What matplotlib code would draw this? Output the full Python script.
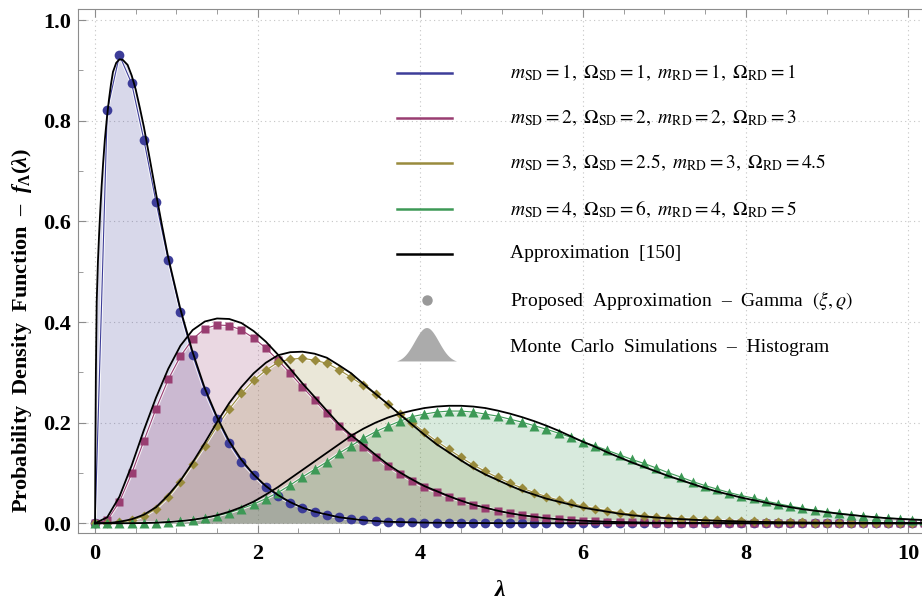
import numpy as np
import matplotlib
matplotlib.use("Agg")
import matplotlib.pyplot as plt
from matplotlib.lines import Line2D
from matplotlib.patches import Polygon
from matplotlib.ticker import MultipleLocator

plt.rcParams['font.family'] = ['Liberation Serif', 'DejaVu Serif']
plt.rcParams['mathtext.fontset'] = 'stix'
plt.rcParams['mathtext.rm'] = 'Liberation Serif:bold'
plt.rcParams['mathtext.it'] = 'Liberation Serif:italic:bold'
plt.rcParams['mathtext.bf'] = 'Liberation Serif:bold'

# lambda grid of the gamma points / simulated histogram (step 0.15, 0 .. 10.2)
lam = np.arange(69) * 0.15

# proposed gamma approximation, one value per grid point
gamma_1 = [0.0, 0.821, 0.930, 0.874, 0.762, 0.638, 0.523, 0.420, 0.334, 0.263,
           0.207, 0.159, 0.122, 0.096, 0.0715, 0.054, 0.041, 0.031, 0.023, 0.0165,
           0.012, 0.0085, 0.006, 0.0045, 0.003, 0.0022, 0.0016, 0.0012, 0.0009, 0.0006,
           0.0004, 0.0003, 0.0002, 0.0001, 0, 0, 0, 0, 0, 0,
           0, 0, 0, 0, 0, 0, 0, 0, 0, 0,
           0, 0, 0, 0, 0, 0, 0, 0, 0, 0,
           0, 0, 0, 0, 0, 0, 0, 0, 0]
gamma_2 = [0.0, 0.006, 0.043, 0.099, 0.164, 0.228, 0.286, 0.332, 0.366, 0.387,
           0.394, 0.393, 0.384, 0.368, 0.348, 0.324, 0.298, 0.271, 0.245, 0.219,
           0.193, 0.172, 0.152, 0.132, 0.113, 0.098, 0.084, 0.072, 0.062, 0.053,
           0.044, 0.037, 0.031, 0.025, 0.020, 0.0165, 0.013, 0.0105, 0.0085, 0.0068,
           0.0055, 0.0044, 0.0035, 0.0028, 0.0022, 0.0017, 0.0013, 0.001, 0.0008, 0.0006,
           0.0005, 0.0004, 0.0003, 0.0002, 0.0002, 0.0001, 0.0001, 0.0001, 0, 0,
           0, 0, 0, 0, 0, 0, 0, 0, 0]
gamma_3 = [0.0, 0.0005, 0.002, 0.006, 0.014, 0.029, 0.052, 0.083, 0.118, 0.154,
           0.193, 0.227, 0.258, 0.284, 0.304, 0.320, 0.326, 0.328, 0.324, 0.318,
           0.305, 0.290, 0.274, 0.256, 0.237, 0.217, 0.200, 0.181, 0.163, 0.147,
           0.131, 0.116, 0.103, 0.091, 0.080, 0.070, 0.061, 0.053, 0.046, 0.040,
           0.034, 0.029, 0.025, 0.021, 0.018, 0.015, 0.013, 0.011, 0.0095, 0.008,
           0.0068, 0.0058, 0.0049, 0.0042, 0.0036, 0.003, 0.0026, 0.0022, 0.0018, 0.0015,
           0.0013, 0.0011, 0.0009, 0.0008, 0.0007, 0.0006, 0.0005, 0.0004, 0.0003]
gamma_4 = [0.0, 0.0, 0.0, 0.0003, 0.0007, 0.0014, 0.0025, 0.004, 0.0065, 0.010,
           0.015, 0.021, 0.029, 0.038, 0.049, 0.061, 0.076, 0.092, 0.107, 0.122,
           0.139, 0.154, 0.169, 0.182, 0.193, 0.203, 0.212, 0.217, 0.221, 0.223,
           0.223, 0.221, 0.217, 0.213, 0.207, 0.201, 0.194, 0.187, 0.179, 0.171,
           0.162, 0.154, 0.145, 0.136, 0.127, 0.119, 0.110, 0.1005, 0.092, 0.083,
           0.075, 0.068, 0.061, 0.055, 0.050, 0.044, 0.039, 0.034, 0.030, 0.026,
           0.023, 0.020, 0.017, 0.0145, 0.0125, 0.0105, 0.009, 0.0075, 0.0065]

# approximation [150] (black curves)
ref_lam_1 = [0, 0.004, 0.01, 0.02, 0.035, 0.05, 0.065, 0.08, 0.1, 0.12,
             0.145, 0.17, 0.195, 0.22, 0.26, 0.3, 0.34, 0.4, 0.45, 0.5,
             0.55, 0.6, 0.675, 0.75, 0.825, 0.9, 1.05, 1.2, 1.35, 1.5,
             1.65, 1.8, 1.95, 2.1, 2.25, 2.4, 2.55, 2.7, 3.0, 3.3,
             3.6, 4.0, 4.5, 5.0, 6.0, 8.0, 10.2]
ref_1 = [0, 0.15, 0.30, 0.44, 0.52, 0.576, 0.625, 0.669, 0.718, 0.762,
         0.805, 0.841, 0.872, 0.897, 0.915, 0.922, 0.921, 0.911, 0.89, 0.862,
         0.826, 0.788, 0.722, 0.655, 0.59, 0.528, 0.425, 0.340, 0.268, 0.211,
         0.163, 0.126, 0.097, 0.074, 0.056, 0.042, 0.031, 0.023, 0.012, 0.006,
         0.003, 0.0015, 0.0006, 0.0003, 0, 0, 0]
ref_2 = [0.0, 0.012, 0.053, 0.115, 0.185, 0.250, 0.307, 0.353, 0.384, 0.401,
         0.407, 0.406, 0.398, 0.382, 0.361, 0.335, 0.307, 0.278, 0.251, 0.224,
         0.197, 0.175, 0.156, 0.136, 0.117, 0.101, 0.087, 0.074, 0.064, 0.054,
         0.045, 0.037, 0.031, 0.025, 0.020, 0.016, 0.013, 0.010, 0.008, 0.0063,
         0.005, 0.004, 0.0031, 0.0024, 0.0019, 0.0015, 0.0011, 0.0009, 0.0007, 0.0005,
         0.0004, 0.0003, 0.0002, 0.0002, 0.0001, 0.0001, 0.0001, 0, 0, 0,
         0, 0, 0, 0, 0, 0, 0, 0, 0]
ref_3 = [0.0, 0.0005, 0.003, 0.008, 0.017, 0.032, 0.056, 0.085, 0.121, 0.160,
         0.201, 0.239, 0.271, 0.298, 0.319, 0.334, 0.340, 0.341, 0.337, 0.329,
         0.314, 0.298, 0.277, 0.257, 0.237, 0.216, 0.196, 0.176, 0.157, 0.141,
         0.125, 0.110, 0.097, 0.086, 0.075, 0.065, 0.057, 0.049, 0.043, 0.037,
         0.031, 0.027, 0.023, 0.019, 0.016, 0.0135, 0.0115, 0.0098, 0.0083, 0.007,
         0.006, 0.005, 0.0043, 0.0036, 0.0031, 0.0026, 0.0022, 0.0018, 0.0015, 0.0013,
         0.0011, 0.0009, 0.0008, 0.0007, 0.0006, 0.0005, 0.0004, 0.0003, 0.0003]
ref_4 = [0.0, 0.0, 0.0, 0.0002, 0.0005, 0.0012, 0.0025, 0.0045, 0.007, 0.011,
         0.016, 0.023, 0.032, 0.043, 0.057, 0.072, 0.089, 0.106, 0.123, 0.140,
         0.157, 0.174, 0.188, 0.200, 0.210, 0.218, 0.224, 0.229, 0.232, 0.2335,
         0.2335, 0.232, 0.229, 0.224, 0.218, 0.211, 0.203, 0.194, 0.184, 0.173,
         0.162, 0.152, 0.141, 0.131, 0.121, 0.112, 0.103, 0.094, 0.086, 0.078,
         0.070, 0.063, 0.057, 0.051, 0.046, 0.041, 0.036, 0.032, 0.028, 0.025,
         0.022, 0.019, 0.0165, 0.014, 0.012, 0.010, 0.0087, 0.0075, 0.0065]

labels = [r'$m_{\mathrm{SD}}=1,\ \Omega_{\mathrm{SD}}=1,\ m_{\mathrm{RD}}=1,\ \Omega_{\mathrm{RD}}=1$',
          r'$m_{\mathrm{SD}}=2,\ \Omega_{\mathrm{SD}}=2,\ m_{\mathrm{RD}}=2,\ \Omega_{\mathrm{RD}}=3$',
          r'$m_{\mathrm{SD}}=3,\ \Omega_{\mathrm{SD}}=2.5,\ m_{\mathrm{RD}}=3,\ \Omega_{\mathrm{RD}}=4.5$',
          r'$m_{\mathrm{SD}}=4,\ \Omega_{\mathrm{SD}}=6,\ m_{\mathrm{RD}}=4,\ \Omega_{\mathrm{RD}}=5$']
colors = ['#3d3d99', '#993d71', '#998b3d', '#3d9956']
markers = ['o', 's', 'D', '^']
msizes = [7.0, 6.3, 5.6, 7.6]

gammas = [gamma_1, gamma_2, gamma_3, gamma_4]
refs = [(ref_lam_1, ref_1), (lam, ref_2), (lam, ref_3), (lam, ref_4)]

fig = plt.figure(figsize=(9.22, 6.0), dpi=100)
ax = fig.add_axes([78 / 922, 67 / 600, 844 / 922, 524 / 600])

# simulated histograms as shaded areas
for i in range(4):
    if i == 0:
        hx, hy = ref_lam_1, ref_1
    else:
        hx, hy = lam, gammas[i]
    ax.fill_between(hx, hy, 0, color=colors[i], alpha=0.2, lw=0, zorder=1)

# gamma points with their joining line
for i in range(4):
    ax.plot(lam, gammas[i], color='white', lw=2.2, alpha=0.85, zorder=2)
    ax.plot(lam, gammas[i], color=colors[i], lw=0.8, zorder=3)
    ax.plot(lam, gammas[i], ls='none', marker=markers[i], ms=msizes[i],
            color=colors[i], mec='none', zorder=4)

for rx, ry in refs:
    ax.plot(rx, ry, color='black', lw=1.3, zorder=5)

ax.set_xlim(-0.21, 10.17)
ax.set_ylim(-0.0193, 1.022)
ax.set_xticks([0, 2, 4, 6, 8, 10])
ax.set_xticklabels(['0', '2', '4', '6', '8', '10'], fontsize=16, fontweight='bold')
ax.set_yticks([0, 0.2, 0.4, 0.6, 0.8, 1.0])
ax.set_yticklabels(['0.0', '0.2', '0.4', '0.6', '0.8', '1.0'], fontsize=16, fontweight='bold')
ax.xaxis.set_minor_locator(MultipleLocator(0.5))
ax.yaxis.set_minor_locator(MultipleLocator(0.1))
ax.tick_params(which='both', direction='in', top=True, right=False, color='#8c8c8c')
ax.tick_params(which='major', length=6, width=0.8)
ax.tick_params(which='minor', length=3.5, width=0.6)
ax.tick_params(axis='x', pad=8)
ax.tick_params(axis='y', pad=5)
for side in ['left', 'bottom', 'top']:
    ax.spines[side].set_color('#8c8c8c')
    ax.spines[side].set_linewidth(0.8)
ax.spines['right'].set_visible(False)
ax.grid(True, which='major', ls=(0, (1, 3)), color='#c4c4c4', lw=0.8)
ax.set_axisbelow(True)

fig.text(22 / 922, 1 - 330 / 600, r'Probability  Density  Function  –  $f_{\Lambda}(\lambda)$',
         rotation=90, ha='center', va='center', fontsize=16, fontweight='bold',
         math_fontfamily='custom')
fig.text(500 / 922, 1 - 590 / 600, r'$\lambda$', ha='center', va='center',
         fontsize=17, math_fontfamily='custom')

# legend, drawn by hand
rows = [73, 118, 163, 209, 254, 300, 347]
x0, x1, xt = 397 / 922, 452 / 922, 510 / 922
for i in range(4):
    yy = 1 - rows[i] / 600
    fig.add_artist(Line2D([x0, x1], [yy, yy], color=colors[i], lw=1.8))
    fig.text(xt, yy, labels[i], fontsize=14, va='center', ha='left')
yy = 1 - rows[4] / 600
fig.add_artist(Line2D([x0, x1], [yy, yy], color='black', lw=1.8))
fig.text(xt, yy, 'Approximation  [150]', fontsize=14, va='center', ha='left')
yy = 1 - rows[5] / 600
fig.add_artist(Line2D([427 / 922], [yy], marker='o', ms=6.5, color='#999999', ls='none'))
fig.text(xt, yy, r'Proposed  Approximation  –  Gamma  $(\xi,\varrho)$', fontsize=14,
         va='center', ha='left')
yy = 1 - rows[6] / 600
bx = np.linspace(-2.5, 2.5, 51)
bell_x = (427 + 12 * bx) / 922
bell_y = 1 - (363 - 35 * np.exp(-bx ** 2 / 2)) / 600
fig.add_artist(Polygon(np.column_stack([bell_x, bell_y]), closed=True,
                       transform=fig.transFigure, color='#ababab', lw=0))
fig.text(xt, yy, 'Monte  Carlo  Simulations  –  Histogram', fontsize=14,
         va='center', ha='left')

fig.savefig('out.png', dpi=100)
